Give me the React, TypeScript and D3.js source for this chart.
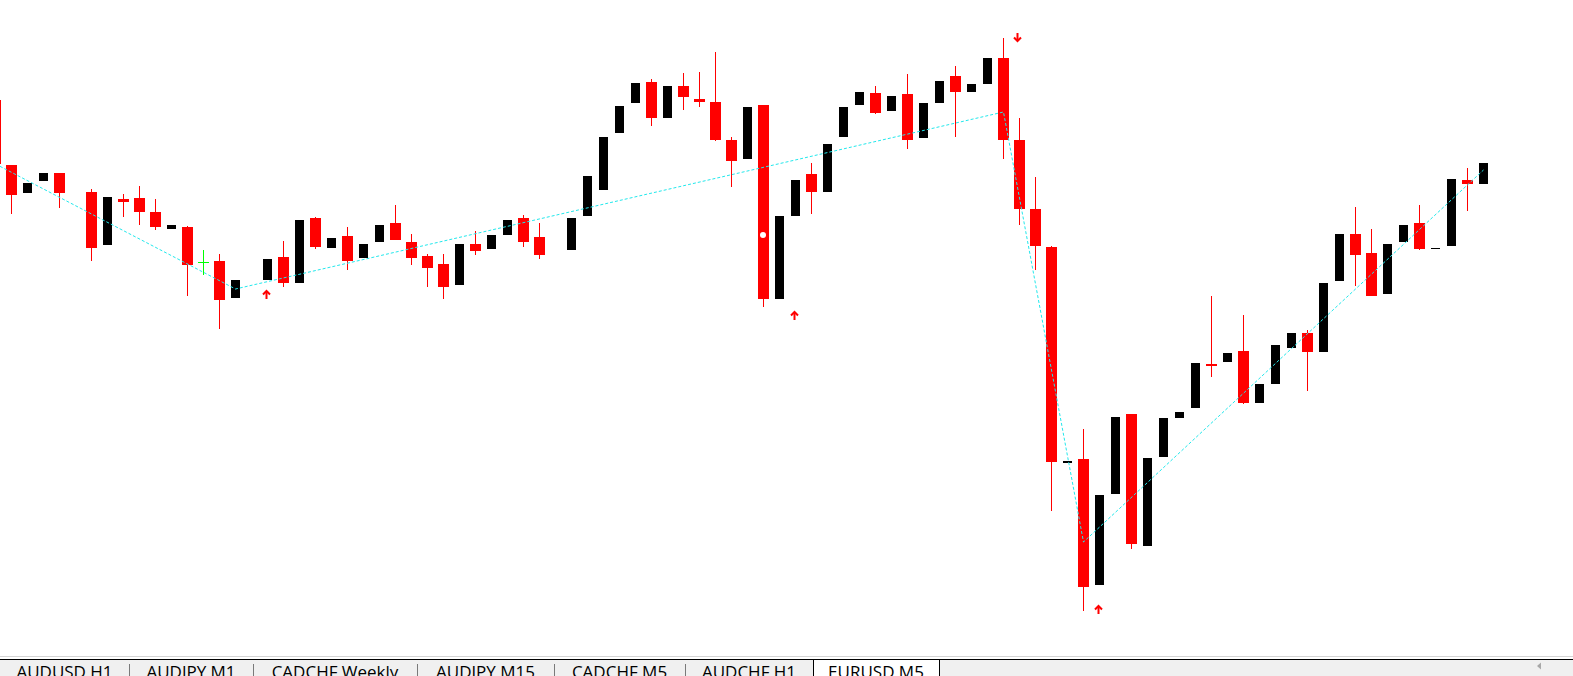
import React from "react";
import * as d3 from "d3";

const W = 1573;
const H = 676;

// EURUSD M5 candles (bar index, open, high, low, close)
const barIndex = [
  -1, 0, 1, 2, 3, 5, 6, 7, 8, 9, 10, 11, 12, 13, 14, 16, 17, 18, 19, 20, 21, 22, 23, 24, 25, 26, 27, 28, 29, 30,
  31, 32, 33, 35, 36, 37, 38, 39, 40, 41, 42, 43, 44, 45, 46, 47, 48, 49, 50, 51, 52, 53, 54, 55, 56, 57, 58, 59,
  60, 61, 62, 63, 64, 65, 66, 67, 68, 69, 70, 71, 72, 73, 74, 75, 76, 77, 78, 79, 80, 81, 82, 83, 84, 85, 86, 87,
  88, 89, 90, 91, 92,
];
const opens = [
  1.089, 1.08835, 1.08807, 1.08819, 1.08827, 1.08808, 1.08755, 1.08801, 1.08802, 1.08788, 1.08771, 1.08773, 1.08738,
  1.08739, 1.08702, 1.0872, 1.08743, 1.08717, 1.08782, 1.08752, 1.08764, 1.08742, 1.08758, 1.08777, 1.08758, 1.08744,
  1.08736, 1.08715, 1.08756, 1.08751, 1.08765, 1.08782, 1.08763, 1.0875, 1.08784, 1.0881, 1.08867, 1.08897, 1.08918,
  1.08882, 1.08914, 1.08901, 1.08898, 1.0886, 1.08841, 1.08895, 1.08701, 1.08784, 1.08826, 1.08808, 1.08863, 1.08895,
  1.08907, 1.08889, 1.08906, 1.08862, 1.08897, 1.08924, 1.08908, 1.08916, 1.08942, 1.0886, 1.08791, 1.08753, 1.08537,
  1.08541, 1.08415, 1.08506, 1.08586, 1.08454, 1.08543, 1.08582, 1.08592, 1.08636, 1.08638, 1.08649, 1.08597, 1.08616,
  1.08652, 1.08667, 1.08648, 1.08719, 1.08766, 1.08747, 1.08706, 1.08758, 1.08777, 1.08751, 1.08754, 1.0882, 1.08816,
];
const highs = [
  1.089, 1.08835, 1.08817, 1.08827, 1.08827, 1.08811, 1.08803, 1.08806, 1.08814, 1.08801, 1.08775, 1.08774, 1.0875,
  1.08746, 1.0872, 1.08741, 1.08759, 1.0878, 1.08783, 1.08762, 1.08773, 1.08756, 1.08775, 1.08795, 1.08766, 1.08746,
  1.08746, 1.08756, 1.08769, 1.08765, 1.0878, 1.08785, 1.08777, 1.08782, 1.08824, 1.08863, 1.08894, 1.08917, 1.08921,
  1.08914, 1.08927, 1.08928, 1.08948, 1.08863, 1.08893, 1.08895, 1.08784, 1.0882, 1.08837, 1.08856, 1.08893, 1.08908,
  1.08914, 1.08904, 1.08926, 1.08897, 1.08919, 1.08934, 1.08916, 1.08942, 1.08962, 1.08882, 1.08823, 1.08754, 1.08539,
  1.08571, 1.08505, 1.08583, 1.08586, 1.08542, 1.08582, 1.08588, 1.08637, 1.08704, 1.08647, 1.08685, 1.08616, 1.08655,
  1.08667, 1.0867, 1.08717, 1.08766, 1.08793, 1.08771, 1.08756, 1.08775, 1.08795, 1.08752, 1.08821, 1.08832, 1.08837,
];
const lows = [
  1.08836, 1.08786, 1.08807, 1.08819, 1.08792, 1.08739, 1.08755, 1.08783, 1.08775, 1.0877, 1.08771, 1.08704, 1.08725,
  1.08671, 1.08702, 1.0872, 1.08713, 1.08717, 1.08751, 1.08752, 1.0873, 1.08742, 1.08758, 1.0876, 1.08735, 1.08713,
  1.08701, 1.08715, 1.08745, 1.08751, 1.08765, 1.08753, 1.08741, 1.0875, 1.08784, 1.0881, 1.08867, 1.08897, 1.08874,
  1.08882, 1.0889, 1.08893, 1.08859, 1.08813, 1.08841, 1.08693, 1.08701, 1.08784, 1.08786, 1.08808, 1.08863, 1.08895,
  1.08886, 1.08889, 1.08851, 1.08862, 1.08897, 1.08863, 1.08908, 1.08916, 1.08841, 1.08775, 1.0873, 1.08489, 1.08537,
  1.08389, 1.08415, 1.08506, 1.08451, 1.08454, 1.08543, 1.08582, 1.08592, 1.08623, 1.08638, 1.08596, 1.08597, 1.08616,
  1.08652, 1.08609, 1.08648, 1.08719, 1.08714, 1.08704, 1.08706, 1.08758, 1.0875, 1.08751, 1.08754, 1.08789, 1.08816,
];
const closes = [
  1.08836, 1.08805, 1.08817, 1.08827, 1.08807, 1.08752, 1.08803, 1.08798, 1.08788, 1.08773, 1.08775, 1.08735, 1.08738,
  1.087, 1.0872, 1.08741, 1.08717, 1.0878, 1.08753, 1.08762, 1.08739, 1.08756, 1.08775, 1.0876, 1.08742, 1.08732,
  1.08713, 1.08756, 1.08749, 1.08765, 1.0878, 1.08758, 1.08745, 1.08782, 1.08824, 1.08863, 1.08894, 1.08917, 1.08882,
  1.08914, 1.08903, 1.08898, 1.0886, 1.08839, 1.08893, 1.08701, 1.08784, 1.0882, 1.08808, 1.08856, 1.08893, 1.08908,
  1.08887, 1.08904, 1.0886, 1.08897, 1.08919, 1.08908, 1.08916, 1.08942, 1.0886, 1.08791, 1.08754, 1.08538, 1.08539,
  1.08413, 1.08505, 1.08583, 1.08456, 1.08542, 1.08582, 1.08588, 1.08637, 1.08634, 1.08647, 1.08597, 1.08616, 1.08655,
  1.08667, 1.08648, 1.08717, 1.08766, 1.08745, 1.08704, 1.08756, 1.08775, 1.08751, 1.08752, 1.08821, 1.08816, 1.08837,
];

// ZigZag vertices
const zigzagIndex = [-1, 14, 62, 67, 92];
const zigzagPrice = [1.08836, 1.08711, 1.08888, 1.08458, 1.0883];

// Arrow signals (tip price)
const upArrowIndex = [16, 49, 68];
const upArrowPrice = [1.0871, 1.08689, 1.08395];
const downArrowIndex = [63];
const downArrowPrice = [1.08958];

// marker dot
const dotIndex = [47];
const dotPrice = [1.08765];

// tabs
const tabLabels = ["AUDUSD,H1", "AUDJPY,M1", "CADCHF,Weekly", "AUDJPY,M15", "CADCHF,M5", "AUDCHF,H1", "EURUSD,M5"];
const activeTab = 6;
const tabEdges = [0, 129, 253, 417, 554, 685, 813, 939];

const RED = "#ff0000";

export default function App() {
  const x = d3.scaleLinear().domain([0, 92]).range([11.5, 1483.5]);
  const y = d3.scaleLinear().domain([1.09, 1.08324]).range([0, 676]);
  const ry = (p: number) => Math.round(y(p));

  const candles = barIndex.map((idx, k) => ({
    idx,
    o: opens[k],
    h: highs[k],
    l: lows[k],
    c: closes[k],
  }));

  const zz = d3
    .line<number>()
    .x((_, k) => x(zigzagIndex[k]))
    .y((p) => y(p))(zigzagPrice);

  const tabTop = 659;

  return (
    <svg
      width={W}
      height={H}
      style={{ position: "fixed", left: 0, top: 0, background: "#fff", display: "block" }}
      fontFamily="'Open Sans', 'Noto Sans', sans-serif"
    >
      <rect x={0} y={0} width={W} height={H} fill="#ffffff" />
      <g shapeRendering="crispEdges">
        {candles.map((d) => {
          const xc = x(d.idx);
          if (d.c < d.o) {
            const top = ry(d.o);
            const bot = ry(d.c);
            return (
              <g key={d.idx}>
                <rect x={Math.round(xc - 0.5)} y={ry(d.h)} width={1} height={Math.max(1, ry(d.l) - ry(d.h))} fill={RED} />
                <rect x={Math.round(xc - 5.5)} y={top} width={11} height={Math.max(1, bot - top)} fill={RED} />
              </g>
            );
          } else if (d.c > d.o) {
            const top = ry(d.c);
            const bot = ry(d.o);
            return (
              <rect key={d.idx} x={Math.round(xc - 4.5)} y={top} width={9} height={Math.max(1, bot - top)} fill="#000" />
            );
          }
          return (
            <g key={d.idx}>
              <rect x={Math.round(xc - 0.5)} y={ry(d.h)} width={1} height={ry(d.l) - ry(d.h)} fill="#00ff00" />
              <rect x={Math.round(xc - 5.5)} y={ry(d.o)} width={11} height={1} fill="#00ff00" />
            </g>
          );
        })}
      </g>
      <path d={zz || ""} fill="none" stroke="#22e8ec" strokeWidth={1} strokeDasharray="3 2" />
      {dotIndex.map((idx, k) => (
        <circle key={idx} cx={x(idx) - 0.5} cy={y(dotPrice[k])} r={3} fill="#fff" />
      ))}
      {upArrowIndex.map((idx, k) => {
        const cx = x(idx) - 1;
        const ty = y(upArrowPrice[k]);
        return (
          <g key={"u" + idx} stroke={RED} strokeWidth={2} fill="none">
            <path d={`M${cx - 3.5},${ty + 4.5} L${cx},${ty + 1} L${cx + 3.5},${ty + 4.5}`} />
            <line x1={cx} y1={ty + 1} x2={cx} y2={ty + 9} />
          </g>
        );
      })}
      {downArrowIndex.map((idx, k) => {
        const cx = x(idx) - 2;
        const ty = y(downArrowPrice[k]);
        return (
          <g key={"d" + idx} stroke={RED} strokeWidth={2} fill="none">
            <path d={`M${cx - 3.5},${ty - 4.5} L${cx},${ty - 1} L${cx + 3.5},${ty - 4.5}`} />
            <line x1={cx} y1={ty - 1} x2={cx} y2={ty - 9} />
          </g>
        );
      })}

      {/* tab bar */}
      <g shapeRendering="crispEdges">
        <rect x={0} y={656} width={W} height={1} fill="#d4d4d4" />
        <rect x={0} y={tabTop} width={W} height={H - tabTop} fill="#f0f0f0" />
        <rect
          x={tabEdges[activeTab]}
          y={tabTop}
          width={tabEdges[activeTab + 1] - tabEdges[activeTab]}
          height={H - tabTop}
          fill="#ffffff"
        />
        <rect x={0} y={tabTop} width={W} height={1} fill="#000" />
        {tabEdges.slice(1, -1).map((e, k) => (
          <rect key={k} x={e} y={tabTop + 5} width={1} height={H - tabTop - 5} fill="#7a7a7a" />
        ))}
        <rect x={tabEdges[activeTab]} y={tabTop} width={1} height={H - tabTop} fill="#000" />
        <rect x={tabEdges[activeTab + 1]} y={tabTop} width={1} height={H - tabTop} fill="#000" />
      </g>
      {tabLabels.map((t, k) => (
        <text
          key={t}
          x={(tabEdges[k] + tabEdges[k + 1]) / 2}
          y={678}
          textAnchor="middle"
          fontSize={17}
          fill="#000"
        >
          {t}
        </text>
      ))}
      <path d="M1537,666 L1541,662.5 L1541,669.5 Z" fill="#a8a8a8" />
    </svg>
  );
}
